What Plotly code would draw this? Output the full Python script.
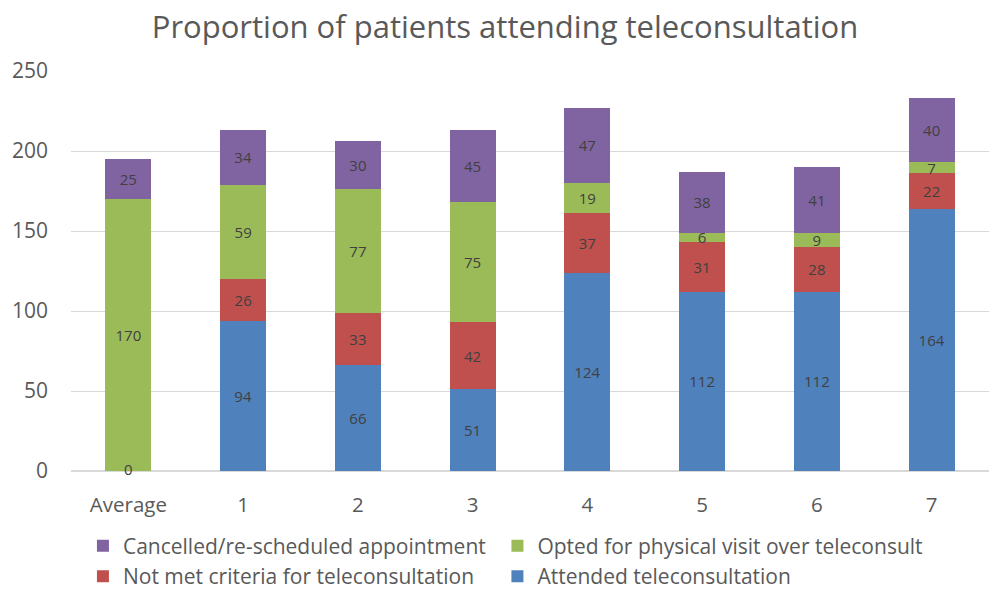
import plotly.graph_objects as go

categories = ["Average", "1", "2", "3", "4", "5", "6", "7"]
attended = [0, 94, 66, 51, 124, 112, 112, 164]
not_met = [None, 26, 33, 42, 37, 31, 28, 22]
opted = [170, 59, 77, 75, 19, 6, 9, 7]
cancelled = [25, 34, 30, 45, 47, 38, 41, 40]

series = [
    ("Attended teleconsultation", attended, "#4F81BD", "legend4"),
    ("Not met criteria for teleconsultation", not_met, "#C0504D", "legend3"),
    ("Opted for physical visit over teleconsult", opted, "#9BBB59", "legend2"),
    ("Cancelled/re-scheduled appointment", cancelled, "#8064A2", "legend"),
]

fig = go.Figure()
for name, vals, color, leg in series:
    fig.add_trace(go.Bar(
        x=categories, y=vals, name=name, legend=leg,
        marker=dict(color=color, line=dict(width=0)),
        text=[("" if v is None else str(v)) for v in vals],
        textposition="inside", insidetextanchor="middle", textangle=0,
        textfont=dict(size=15, color="#404040", family="Open Sans, Arial"),
        width=0.4,
    ))

# zero label for the Average attended value
fig.add_trace(go.Scatter(
    x=[categories[0]], y=[attended[0]], mode="text", text=[str(attended[0])],
    textposition="middle center", textfont=dict(size=15, color="#404040"),
    showlegend=False, hoverinfo="skip", cliponaxis=False,
))

legend_common = dict(orientation="h", xanchor="left", yanchor="middle",
                     font=dict(size=21, color="#595959"), itemwidth=30,
                     bgcolor="rgba(0,0,0,0)")
col1, col2 = 0.013, 0.4645
row1, row2 = -0.188, -0.264

fig.update_layout(
    barmode="stack",
    width=989, height=592,
    paper_bgcolor="white", plot_bgcolor="white",
    title=dict(text="Proportion of patients attending teleconsultation",
               xref="container", x=0.5106, xanchor="center",
               yref="container", y=1 - 27 / 592, yanchor="middle",
               font=dict(size=31, color="#595959", family="Open Sans, Arial")),
    margin=dict(l=71, r=0, t=71, b=121, autoexpand=False),
    font=dict(family="Open Sans, Arial", color="#595959"),
    uniformtext=dict(minsize=15, mode="show"),
    legend=dict(**legend_common, x=col1, y=row1),
    legend2=dict(**legend_common, x=col2, y=row1),
    legend3=dict(**legend_common, x=col1, y=row2),
    legend4=dict(**legend_common, x=col2, y=row2),
    bargap=0.6,
)
fig.update_yaxes(range=[0, 250], dtick=50, showgrid=True, gridcolor="#D9D9D9",
                 gridwidth=1, zeroline=True, zerolinecolor="#D9D9D9",
                 tickfont=dict(size=21, color="#595959"), ticks="", ticklen=0,
                 ticklabelstandoff=22)
fig.update_xaxes(tickfont=dict(size=20.5, color="#595959"), showline=False,
                 ticks="", ticklabelstandoff=19)

fig.write_html("out.html", config={"displayModeBar": False},
               post_script="document.body.style.margin='0';document.body.style.overflow='hidden';")
